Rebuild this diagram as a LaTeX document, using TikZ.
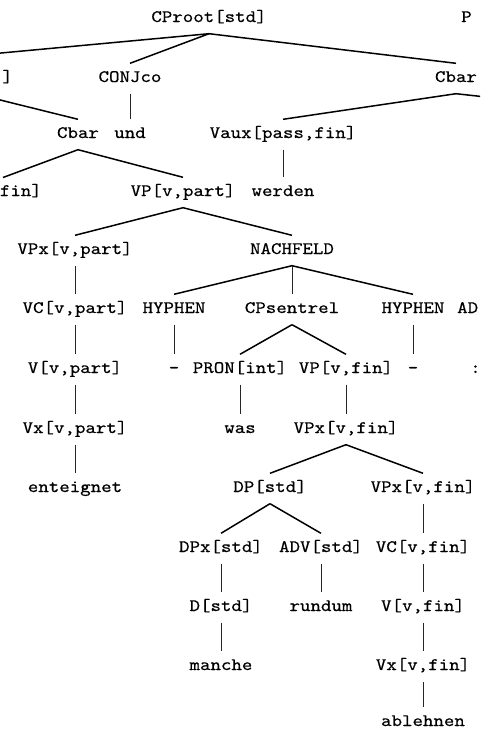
\documentclass[tikz,border=0pt]{standalone}
\usepackage{fontspec}
% Typewriter face, widened and a little thickened so that it comes close to Courier
\newfontfamily\treefont{lmmono10-regular.otf}[FakeStretch=1.14, FakeBold=0.45]
\begin{document}
\begin{tikzpicture}[x=1pt,y=-1pt,
  cat/.style={font={\treefont\fontsize{17.5}{19}\selectfont},
    text height=9.5pt, text depth=2.5pt,
    inner xsep=0pt, inner ysep=9pt, anchor=base},
  branch/.style={draw=black, line width=1.5pt},
  stem/.style={draw=black!85, line width=1pt}]
\useasboundingbox (0,0) rectangle (480,729);
\clip (0,0) rectangle (480,729);

% ---- categories and words, row by row (baselines) ----
\node[cat] (root) at (209,22) {CProot[std]};
\node[cat, anchor=base west] (pfrag) at (461,22) {P};

\node[cat, anchor=base east] (lfrag) at (13,82) {]};
\node[cat] (conj) at (130,82) {CONJco};
\node[cat] (cbarR) at (456,82) {Cbar};

\node[cat] (cbarL) at (78,138) {Cbar};
\node[cat] (und) at (130,138) {und};
\node[cat] (vaux) at (283,138) {Vaux[pass,fin]};

\node[cat, anchor=base east] (finfrag) at (42,196) {fin]};
\node[cat] (vp) at (183,196) {VP[v,part]};
\node[cat] (werden) at (283,196) {werden};

\node[cat] (vpx) at (75,254) {VPx[v,part]};
\node[cat] (nach) at (292,254) {NACHFELD};

\node[cat] (vc) at (75,313) {VC[v,part]};
\node[cat] (hyA) at (174,313) {HYPHEN};
\node[cat] (cps) at (292,313) {CPsentrel};
\node[cat] (hyB) at (413,313) {HYPHEN};
\node[cat, anchor=base west] (adfrag) at (457,313) {AD};

\node[cat] (v) at (75,373) {V[v,part]};
\node[cat] (dashA) at (174,373) {-};
\node[cat] (pron) at (240,373) {PRON[int]};
\node[cat] (vpfin) at (346,373) {VP[v,fin]};
\node[cat] (dashB) at (413,373) {-};
\node[cat, anchor=base west] (colfrag) at (470,373) {:};

\node[cat] (vx) at (75,433) {Vx[v,part]};
\node[cat] (was) at (240,433) {was};
\node[cat] (vpxfin) at (346,433) {VPx[v,fin]};

\node[cat] (enteignet) at (75,492) {enteignet};
\node[cat] (dp) at (270,492) {DP[std]};
\node[cat] (vpxfinB) at (423,492) {VPx[v,fin]};

\node[cat] (dpx) at (221,552) {DPx[std]};
\node[cat] (adv) at (321,552) {ADV[std]};
\node[cat] (vcfin) at (423,552) {VC[v,fin]};

\node[cat] (d) at (221,611) {D[std]};
\node[cat] (rundum) at (321,611) {rundum};
\node[cat] (vfin) at (423,611) {V[v,fin]};

\node[cat] (manche) at (221,670) {manche};
\node[cat] (vxfin) at (423,670) {Vx[v,fin]};

\node[cat] (ablehnen) at (423,726) {ablehnen};

% ---- free ends of branches that leave the frame ----
\coordinate (rootL) at (-112,63.5);
\coordinate (cbarLpar) at (-26,93.5);
\coordinate (cbarLkid) at (3,177.5);
\coordinate (cbarRkid) at (495,98);

% ---- branching edges ----
\draw[branch] (root.south) -- (rootL);
\draw[branch] (root.south) -- (conj.north);
\draw[branch] (root.south) -- (cbarR.north);
\draw[branch] (cbarLpar) -- (cbarL.north);
\draw[branch] (cbarL.south) -- (cbarLkid);
\draw[branch] (cbarL.south) -- (vp.north);
\draw[branch] (cbarR.south) -- (vaux.north);
\draw[branch] (cbarR.south) -- (cbarRkid);
\draw[branch] (vp.south) -- (vpx.north);
\draw[branch] (vp.south) -- (nach.north);
\draw[branch] (nach.south) -- (hyA.north);
\draw[branch] (nach.south) -- (hyB.north);
\draw[branch] (cps.south) -- (pron.north);
\draw[branch] (cps.south) -- (vpfin.north);
\draw[branch] (vpxfin.south) -- (dp.north);
\draw[branch] (vpxfin.south) -- (vpxfinB.north);
\draw[branch] (dp.south) -- (dpx.north);
\draw[branch] (dp.south) -- (adv.north);

% ---- unary (vertical) edges ----
\draw[stem] (conj.south) -- (und.north);
\draw[stem] (vaux.south) -- (werden.north);
\draw[stem] (vpx.south) -- (vc.north);
\draw[stem] (nach.south) -- (cps.north);
\draw[stem] (vc.south) -- (v.north);
\draw[stem] (hyA.south) -- (dashA.north);
\draw[stem] (hyB.south) -- (dashB.north);
\draw[stem] (v.south) -- (vx.north);
\draw[stem] (pron.south) -- (was.north);
\draw[stem] (vpfin.south) -- (vpxfin.north);
\draw[stem] (vx.south) -- (enteignet.north);
\draw[stem] (vpxfinB.south) -- (vcfin.north);
\draw[stem] (dpx.south) -- (d.north);
\draw[stem] (adv.south) -- (rundum.north);
\draw[stem] (vcfin.south) -- (vfin.north);
\draw[stem] (d.south) -- (manche.north);
\draw[stem] (vfin.south) -- (vxfin.north);
\draw[stem] (vxfin.south) -- (ablehnen.north);
\end{tikzpicture}
\end{document}
